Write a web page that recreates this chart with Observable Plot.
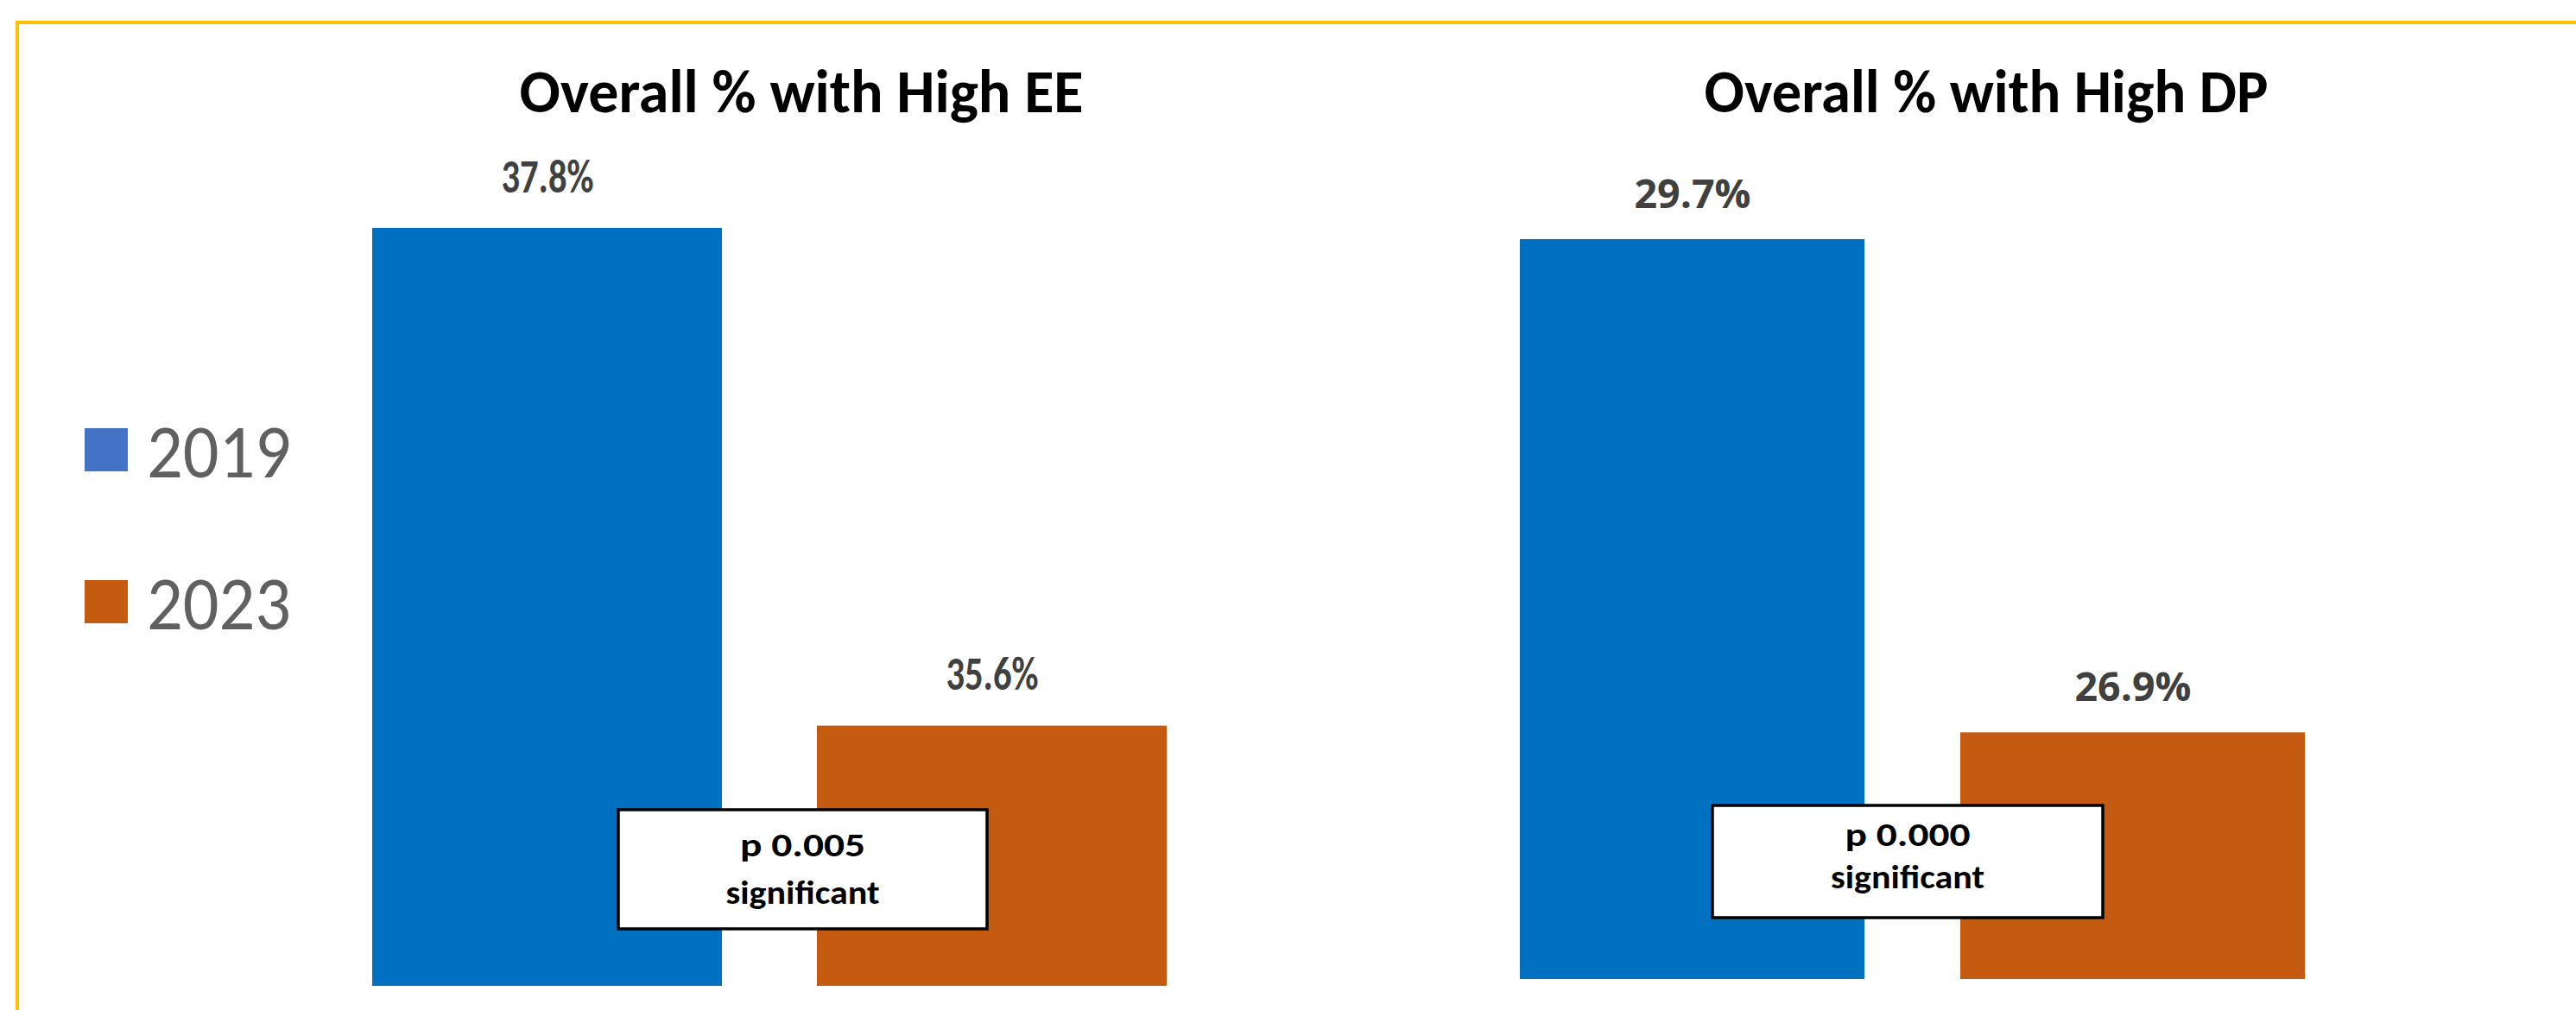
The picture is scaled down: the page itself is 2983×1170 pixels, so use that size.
<!DOCTYPE html>
<html><head><meta charset="utf-8">
<script src="https://cdn.jsdelivr.net/npm/d3@7"></script>
<script src="https://cdn.jsdelivr.net/npm/@observablehq/plot@0.6"></script>
<style>
html,body{margin:0;padding:0;background:#fff;}
#page{position:relative;width:2983px;height:1170px;overflow:hidden;background:#fff;}
.frame{position:absolute;left:18px;top:24px;width:3000px;height:1200px;border-top:4px solid #FFC000;border-left:4px solid #FFC000;box-sizing:border-box;}
.chart{position:absolute;top:0;}
#overlay{position:absolute;left:0;top:0;}
</style></head><body><div id="page"><div class="frame"></div></div>
<script>
// ---- data ----
const years = ["2019", "2023"];
const chartTitles = ["Overall % with High EE", "Overall % with High DP"];
const eeValues = [37.8, 35.6];
const dpValues = [29.7, 26.9];
const pLabels = ["p 0.005", "p 0.000"];
const pVerdicts = ["significant", "significant"];
const axisMins = [34.45, 25.5];
const barColors = ["#0070C0", "#C55A11"];
const legendColors = ["#4472C4", "#C55A11"];

const narrow = '"Liberation Sans Narrow", Carlito, "Open Sans", sans-serif';
const page = document.getElementById("page");

function chart(values, yMin, o) {
  const data = years.map((y, i) => ({year: y, value: values[i]}));
  const svg = Plot.plot({
    width: o.width, height: 1170,
    marginTop: o.mt, marginBottom: o.mb, marginLeft: o.ml, marginRight: o.mr,
    x: {domain: years, axis: null, paddingInner: o.pad, paddingOuter: 0},
    y: {domain: [yMin, d3.max(values)], axis: null},
    color: {domain: years, range: barColors},
    style: {background: "transparent", overflow: "visible"},
    marks: [
      Plot.barY(data, {x: "year", y1: yMin, y2: "value", fill: "year"}),
      Plot.text(data, {x: "year", y: "value", text: d => d.value.toFixed(1) + "%",
        lineAnchor: "bottom", dy: o.dy, fontSize: o.fs, fontWeight: "bold",
        fill: "#404040", fontFamily: o.ff})
    ]
  });
  svg.classList.add("chart");
  svg.style.left = o.left + "px";
  svg.style.maxWidth = "none";
  page.appendChild(svg);
  if (o.fitLabel) {
    d3.select(svg).selectAll("text").filter(function(){ return this.textContent.includes("%"); })
      .attr("textLength", o.fitLabel).attr("lengthAdjust", "spacingAndGlyphs");
  }
  return svg;
}

chart(eeValues, axisMins[0], {width: 1120, left: 330, mt: 264, mb: 28, ml: 100, mr: 98,
  pad: 0.213, dy: -42, fs: 54, ff: narrow, fitLabel: 107});
chart(dpValues, axisMins[1], {width: 1111, left: 1659, mt: 277, mb: 36, ml: 100, mr: 100,
  pad: 0.217, dy: -37, fs: 47, ff: '"Open Sans", sans-serif', fitLabel: 135});

// ---- overlay: titles, legend, p-value boxes ----
const ov = d3.select(page).append("svg").attr("id", "overlay")
  .attr("width", 2983).attr("height", 1170).style("overflow", "visible");

const titleX = [928, 2300];
chartTitles.forEach((t, i) => {
  ov.append("text").attr("x", titleX[i]).attr("y", 130).attr("text-anchor", "middle")
    .attr("font-family", narrow).attr("font-weight", "bold").attr("font-size", 70)
    .attr("fill", "#000").attr("textLength", 653).attr("lengthAdjust", "spacingAndGlyphs")
    .text(t);
});

const legendY = [496, 672];
years.forEach((y, i) => {
  ov.append("rect").attr("x", 98).attr("y", legendY[i]).attr("width", 50).attr("height", 50)
    .attr("fill", legendColors[i]);
  ov.append("text").attr("x", 170).attr("y", legendY[i] + 57)
    .attr("font-family", narrow).attr("font-weight", 300).attr("font-size", 88)
    .attr("fill", "#606060").attr("textLength", 167).attr("lengthAdjust", "spacingAndGlyphs")
    .text(y);
});

const boxes = [{x: 716, y: 938, w: 427, h: 138, b1: 992, b2: 1047},
               {x: 1983, y: 933, w: 452, h: 130, b1: 980, b2: 1029}];
boxes.forEach((b, i) => {
  ov.append("rect").attr("x", b.x).attr("y", b.y).attr("width", b.w).attr("height", b.h)
    .attr("fill", "#fff").attr("stroke", "#000").attr("stroke-width", 3.5);
  const cx = b.x + b.w / 2;
  [[pLabels[i], b.b1, 145], [pVerdicts[i], b.b2, 178]].forEach(([t, by, len]) => {
    ov.append("text").attr("x", cx).attr("y", by).attr("text-anchor", "middle")
      .attr("font-family", narrow).attr("font-weight", 600)
      .attr("font-size", 39).attr("fill", "#000")
      .attr("textLength", len).attr("lengthAdjust", "spacingAndGlyphs").text(t);
  });
});
</script></body></html>
